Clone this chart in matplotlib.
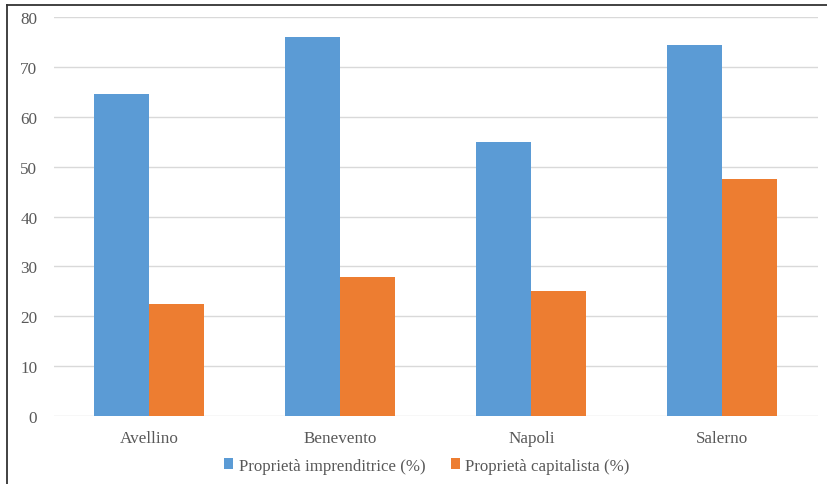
import matplotlib
matplotlib.use("Agg")

import matplotlib.pyplot as plt
from matplotlib.lines import Line2D
import numpy as np

provinces = ["Avellino", "Benevento", "Napoli", "Salerno"]
imprenditrice = [64.5, 76.0, 55.0, 74.3]
capitalista = [22.5, 27.8, 25.0, 47.5]
series_labels = ["Proprietà imprenditrice (%)", "Proprietà capitalista (%)"]

plt.rcParams["font.family"] = ["Liberation Serif", "DejaVu Serif"]

fig = plt.figure(figsize=(8.27, 4.85), dpi=100)
ax = fig.add_axes([0.0653, 0.140, 0.9237, 0.823])

x = np.arange(len(provinces))
w = 0.288
ax.bar(x - w / 2, imprenditrice, w, color="#5b9bd5", label=series_labels[0], zorder=3)
ax.bar(x + w / 2, capitalista, w, color="#ed7d31", label=series_labels[1], zorder=3)

ax.set_xlim(-0.5, len(provinces) - 0.5)
ax.set_ylim(0, 80)
ax.set_yticks(range(0, 81, 10))
ax.set_xticks(x)
ax.set_xticklabels(provinces)
ax.grid(axis="y", color="#d9d9d9", linewidth=1, zorder=0)
for s in ax.spines.values():
    s.set_visible(False)
ax.tick_params(axis="both", length=0, labelsize=12.3, colors="#595959")
ax.tick_params(axis="y", pad=12)
ax.tick_params(axis="x", pad=10)

fig.legend(loc="center", bbox_to_anchor=(0.516, 0.038), ncol=2, frameon=False,
           fontsize=12.2, handlelength=0.55, handleheight=0.55, handletextpad=0.3,
           columnspacing=1.5, labelcolor="#595959")

# frame only on the left and top edges
fig.lines.append(Line2D([6.5 / 827, 6.5 / 827], [0, 1 - 6 / 485],
                        transform=fig.transFigure, color="#333333", linewidth=1.3))
fig.lines.append(Line2D([6.5 / 827, 1], [1 - 6 / 485, 1 - 6 / 485],
                        transform=fig.transFigure, color="#333333", linewidth=1.3))

plt.savefig("out.png", dpi=100)
plt.close()
